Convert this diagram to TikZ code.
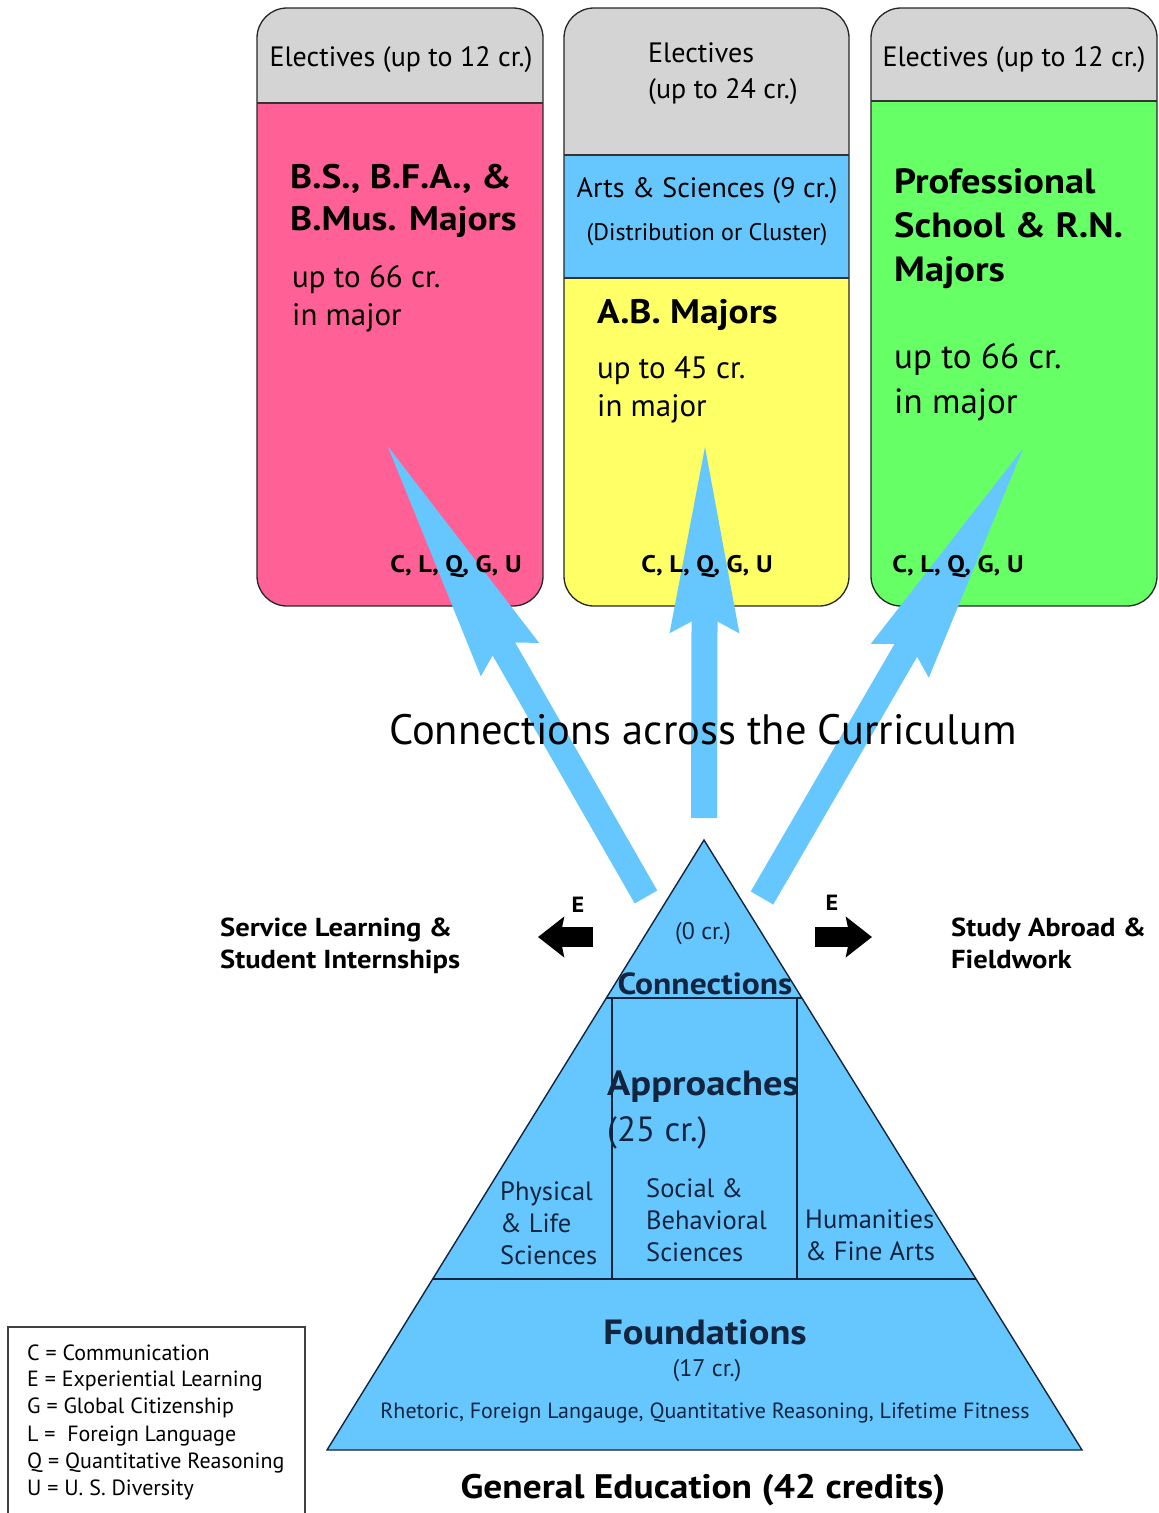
\documentclass[tikz,border=0pt]{standalone}
\usepackage{fontspec}
\setmainfont{PT Sans}[BoldFeatures={FakeStretch=1.1}]
\usetikzlibrary{arrows.meta, calc, math}
\definecolor{gblue}{RGB}{102,199,255}
\definecolor{gpink}{RGB}{255,97,150}
\definecolor{ggrey}{RGB}{212,212,212}
\definecolor{gyellow}{RGB}{255,255,102}
\definecolor{ggreen}{RGB}{102,255,102}
\definecolor{gnavy}{RGB}{18,36,62}

\begin{document}
\begin{tikzpicture}[x=1pt, y=-1pt,
  majorbox/.style={draw=black!85, line width=1.3pt, rounded corners=30pt},
  sepline/.style={draw=black!80, line width=1.2pt},
  bigarrow/.style={gblue, line width=26pt, -{Stealth[length=250pt,width=62pt,inset=15pt]}},
  exparrow/.style={black, line width=20pt, -{Stealth[length=26pt,width=40pt,inset=4pt]}},
  hdr/.style={inner sep=0pt, font=\fontsize{28}{36}\selectfont},
  majtitle/.style={inner sep=0pt, anchor=north west, align=left, font=\bfseries\fontsize{34}{42}\selectfont},
  majtext/.style={inner sep=0pt, anchor=north west, align=left, font=\fontsize{31}{38}\selectfont},
  codes/.style={inner sep=0pt, font=\bfseries\fontsize{24}{28}\selectfont},
  pyr/.style={draw=gnavy, line width=1.4pt, fill=gblue},
  pyrline/.style={draw=gnavy, line width=1.4pt},
  pyrtext/.style={inner sep=0pt, text=gnavy, align=left},
  side/.style={inner sep=0pt, anchor=north west, align=left, font=\bfseries\fontsize{26}{32}\selectfont},
  legend/.style={inner sep=0pt, anchor=west, font=\fontsize{22}{26}\selectfont}
]
\useasboundingbox (0,0) rectangle (1159,1513);

\tikzmath{
\tc = (998-840)/610;%connections line
\ta = (1279-840)/610;%approaches line
}

% major boxes
\begin{scope}
\clip[rounded corners=30pt] (257,8) rectangle (543,606);
\fill[ggrey] (257,8) rectangle (543,103);
\fill[gpink] (257,103) rectangle (543,606);
\end{scope}
\draw[majorbox] (257,8) rectangle (543,606);
\draw[sepline] (257,103) -- (543,103);

\begin{scope}
\clip[rounded corners=30pt] (564,8) rectangle (849,606);
\fill[ggrey] (564,8) rectangle (849,155);
\fill[gblue] (564,155) rectangle (849,278);
\fill[gyellow] (564,278) rectangle (849,606);
\end{scope}
\draw[majorbox] (564,8) rectangle (849,606);
\draw[sepline] (564,155) -- (849,155);
\draw[sepline] (564,278) -- (849,278);

\begin{scope}
\clip[rounded corners=30pt] (871,8) rectangle (1157,606);
\fill[ggrey] (871,8) rectangle (1157,101);
\fill[ggreen] (871,101) rectangle (1157,606);
\end{scope}
\draw[majorbox] (871,8) rectangle (1157,606);
\draw[sepline] (871,101) -- (1157,101);

% arrows from the pyramid
\coordinate (tipBS) at (383,438);
\coordinate (tipAB) at (705,440);
\coordinate (tipPR) at (1028,440);
\coordinate (tailBS) at (646,897);
\coordinate (tailAB) at (704,818);
\coordinate (tailPR) at (762,898);
\draw[bigarrow] (tailBS) -- (tipBS);
\draw[bigarrow, -{Stealth[length=188pt,width=64pt,inset=14pt]}] (tailAB) -- (tipAB);
\draw[bigarrow] (tailPR) -- (tipPR);

\node[hdr] (elecBS) at (401,60) {Electives (up to 12 cr.)};
\node[hdr, anchor=north west, align=left] (elecAB) at (648,42) {Electives\\(up to 24 cr.)};
\node[hdr] (elecPR) at (1014,60) {Electives (up to 12 cr.)};
\node[hdr] (artsci) at (707,191) {Arts \& Sciences (9 cr.)};
\node[hdr, font=\fontsize{24}{28}\selectfont] (distr) at (707,235) {(Distribution or Cluster)};

\node[majtitle] (bsTitle) at (290,164) {B.S., B.F.A., \&\\B.Mus. Majors};
\node[majtext] (bsCr) at (292,265) {up to 66 cr.\\in major};
\node[majtitle] (abTitle) at (597,299) {A.B. Majors};
\node[majtext] (abCr) at (597,356) {up to 45 cr.\\in major};
\node[majtitle, font=\bfseries\fontsize{35}{44}\selectfont] (prTitle) at (894,168) {Professional\\School \& R.N.\\Majors};
\node[majtext, font=\fontsize{35}{45}\selectfont] (prCr) at (894,343) {up to 66 cr.\\in major};

\node[codes] (cBS) at (456,567) {C, L, Q, G, U};
\node[codes] (cAB) at (707,567) {C, L, Q, G, U};
\node[codes] (cPR) at (958,567) {C, L, Q, G, U};

\node[inner sep=0pt, font=\fontsize{42.5}{48}\selectfont] (across) at (703,730) {Connections across the Curriculum};

% pyramid
\coordinate (apex) at (704,840);
\coordinate (bl) at (327,1450);
\coordinate (br) at (1082,1450);
\draw[pyr] (apex) -- (bl) -- (br) -- cycle;
\draw[pyrline] ($(apex)!\tc!(bl)$) -- ($(apex)!\tc!(br)$);
\draw[pyrline] ($(apex)!\ta!(bl)$) -- ($(apex)!\ta!(br)$);
\draw[pyrline] (612,998) rectangle (797,1279);

\node[pyrtext, font=\fontsize{24}{28}\selectfont] (zero) at (703,934) {(0 cr.)};
\node[pyrtext, font=\bfseries\fontsize{30.5}{34}\selectfont] (conn) at (705,984) {Connections};
\node[pyrtext, anchor=north west, font=\fontsize{35}{46}\selectfont] (appr) at (607,1071) {\textbf{Approaches}\\(25 cr.)};
\node[pyrtext, anchor=north west, font=\fontsize{26.5}{32}\selectfont] (phys) at (500,1182) {Physical\\\& Life\\Sciences};
\node[pyrtext, anchor=north west, font=\fontsize{26.5}{32}\selectfont] (soc) at (646,1178) {Social \&\\Behavioral\\Sciences};
\node[pyrtext, anchor=north west, font=\fontsize{26.5}{32}\selectfont] (hum) at (805,1210) {Humanities\\\& Fine Arts};
\node[pyrtext, font=\bfseries\fontsize{35}{40}\selectfont] (found) at (705,1332) {Foundations};
\node[pyrtext, font=\fontsize{24}{28}\selectfont] (seventeen) at (707,1371) {(17 cr.)};
\node[pyrtext, font=\fontsize{22}{26}\selectfont] (rhet) at (705,1413) {Rhetoric, Foreign Langauge, Quantitative Reasoning, Lifetime Fitness};
\node[inner sep=0pt, font=\bfseries\fontsize{34}{38}\selectfont] (gened) at (703,1490) {General Education (42 credits)};

% experiential learning
\coordinate (eL1) at (593,937);
\coordinate (eL2) at (538,937);
\coordinate (eR1) at (815,937);
\coordinate (eR2) at (872,937);
\draw[exparrow] (eL1) -- (eL2);
\draw[exparrow] (eR1) -- (eR2);
\node[inner sep=0pt, font=\bfseries\fontsize{22}{26}\selectfont] (eLeft) at (578,905) {E};
\node[inner sep=0pt, font=\bfseries\fontsize{22}{26}\selectfont] (eRight) at (832,903) {E};
\node[side] (service) at (220,918) {Service Learning \&\\Student Internships};
\node[side] (abroad) at (951,918) {Study Abroad \&\\Fieldwork};

% legend
\draw[line width=1.3pt, draw=black!75] (8,1513) -- (8,1327) -- (305,1327) -- (305,1513);
\node[legend] (lgC) at (27,1353) {C = Communication};
\node[legend] (lgE) at (27,1381) {E = Experiential Learning};
\node[legend] (lgG) at (27,1408) {G = Global Citizenship};
\node[legend] (lgL) at (27,1436) {L = \ Foreign Language};
\node[legend] (lgQ) at (27,1463) {Q = Quantitative Reasoning};
\node[legend] (lgU) at (27,1490) {U = U. S. Diversity};

\end{tikzpicture}
\end{document}
